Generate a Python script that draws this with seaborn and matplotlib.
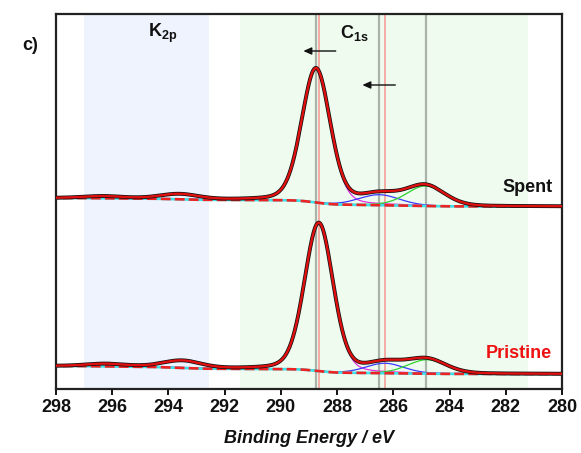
import numpy as np
import pandas as pd
import matplotlib
matplotlib.use("Agg")
import matplotlib.pyplot as plt
import seaborn as sns

# ---------------- data ----------------
samples = ["Spent", "Pristine"]
tick_values = [298, 296, 294, 292, 290, 288, 286, 284, 282, 280]

# C1s components: O-C=O (magenta), C-O (blue), C-C (green)
c1s_colors = ["#e030e0", "#3a3aff", "#30d030"]
spent_c1s_center = [288.75, 286.5, 284.85]
spent_c1s_height = [134, 10.5, 20]
spent_c1s_fwhm = [1.2, 1.7, 1.6]
pristine_c1s_center = [288.65, 286.3, 284.8]
pristine_c1s_height = [148, 10, 14]
pristine_c1s_fwhm = [1.2, 1.6, 1.6]

# K2p components: K2p3/2 (blue), K2p1/2 (green)
k2p_colors = ["#3a3aff", "#30d030"]
spent_k2p_center = [293.6, 296.3]
spent_k2p_height = [5, 2.0]
pristine_k2p_center = [293.5, 296.2]
pristine_k2p_height = [7, 2.5]
k2p_fwhm = [1.6, 1.6]

# background levels: high-BE end, between K and C regions, low-BE end
spent_bg = [191, 189, 182.5]
pristine_bg = [23, 20, 15]

# reference lines (grey = spent, red = pristine)
spent_lines = [288.75, 286.5, 284.85]
pristine_lines = [288.65, 286.3]

# shaded regions
k2p_span = [297.0, 292.55]
c1s_span = [291.45, 281.2]

GL_MIX = 0.2  # Lorentzian fraction of the pseudo-Voigt line shape


def pv(x, c, h, w):
    g = np.exp(-4 * np.log(2) * ((x - c) / w) ** 2)
    l = 1.0 / (1.0 + 4 * ((x - c) / w) ** 2)
    return h * ((1 - GL_MIX) * g + GL_MIX * l)


def cum_from_low(y):
    # array runs high BE -> low BE; Shirley-type cumulative fraction
    c = np.cumsum(y[::-1])[::-1]
    return c / c[0]


be = np.linspace(298, 280, 1801)


def build(cc, ch, cw, kc, kh, bgl):
    c_comps = [pv(be, c, h, w) for c, h, w in zip(cc, ch, cw)]
    k_comps = [pv(be, c, h, w) for c, h, w in zip(kc, kh, k2p_fwhm)]
    fc = cum_from_low(sum(c_comps))
    fk = cum_from_low(sum(k_comps))
    bg = bgl[2] + (bgl[1] - bgl[2]) * fc + (bgl[0] - bgl[1]) * fk
    env = bg + sum(c_comps) + sum(k_comps)
    return bg, c_comps, k_comps, env


sns.set_theme(style="white")
plt.rcParams["font.family"] = ["Liberation Sans", "DejaVu Sans"]
plt.rcParams["text.color"] = "#111111"
plt.rcParams["axes.labelcolor"] = "#111111"
plt.rcParams["xtick.color"] = "#111111"
plt.rcParams["mathtext.fontset"] = "custom"
plt.rcParams["mathtext.rm"] = "Liberation Sans"
plt.rcParams["mathtext.bf"] = "Liberation Sans:bold"

fig = plt.figure(figsize=(5.81, 4.53), dpi=100)
ax = fig.add_axes([56 / 581, 1 - 389 / 453, 506 / 581, 375 / 453])

ax.axvspan(*k2p_span, color="#eef3fd", zorder=0, lw=0)
ax.axvspan(*c1s_span, color="#effbef", zorder=0, lw=0)

for v in spent_lines:
    ax.axvline(v, color="#a9b3a9", lw=1.6, zorder=1)
for v in pristine_lines:
    ax.axvline(v, color="#f4a79f", lw=1.3, zorder=1)

params = {
    "Spent": (spent_c1s_center, spent_c1s_height, spent_c1s_fwhm,
              spent_k2p_center, spent_k2p_height, spent_bg),
    "Pristine": (pristine_c1s_center, pristine_c1s_height, pristine_c1s_fwhm,
                 pristine_k2p_center, pristine_k2p_height, pristine_bg),
}

for s in samples:
    bg, cc, kc, env = build(*params[s])
    df = pd.DataFrame({"be": be, "bg": bg, "env": env})
    for i, comp in enumerate(kc):
        df[f"k{i}"] = bg + comp
        sns.lineplot(data=df, x="be", y=f"k{i}", ax=ax, color=k2p_colors[i],
                     lw=0.9, zorder=3, legend=False)
    for i, comp in enumerate(cc):
        df[f"c{i}"] = bg + comp
        sns.lineplot(data=df, x="be", y=f"c{i}", ax=ax, color=c1s_colors[i],
                     lw=0.9, zorder=3, legend=False)
    sns.lineplot(data=df, x="be", y="bg", ax=ax, color="#40e0e8", lw=1.9,
                 zorder=4, legend=False)
    sns.lineplot(data=df, x="be", y="bg", ax=ax, color="#ee2222", lw=1.9,
                 zorder=5, legend=False, dashes=(3, 2.2), linestyle="--")
    sns.lineplot(data=df, x="be", y="env", ax=ax, color="#111111", lw=2.8,
                 zorder=6, legend=False)
    sns.lineplot(data=df, x="be", y="env", ax=ax, color="#e01010", lw=1.7,
                 zorder=7, legend=False)

ax.set_xlim(298, 280)
ax.set_ylim(0, 375)
ax.set_yticks([])
ax.set_ylabel("")
ax.set_xticks(tick_values)
ax.set_xticks(np.arange(297, 280, 2), minor=True)
ax.set_xticklabels([str(t) for t in tick_values], fontsize=13, fontweight="bold")
ax.tick_params(axis="x", which="major", direction="out", length=4, width=1.4,
               pad=3, bottom=True, colors="#111111")
ax.tick_params(axis="x", which="minor", direction="out", length=2.2, width=1.2,
               bottom=True, colors="#111111")
ax.set_xlabel("Binding Energy / eV", fontsize=13, fontweight="bold",
              fontstyle="italic", labelpad=10, color="#111111")
for sp in ax.spines.values():
    sp.set_linewidth(1.6)
    sp.set_color("#222222")

ax.text(294.2, 356, r"$\mathbf{K_{2p}}$", fontsize=13, ha="center", va="center",
        color="#111111")
ax.text(287.4, 356, r"$\mathbf{C_{1s}}$", fontsize=13, ha="center", va="center",
        color="#111111")
ax.text(280.35, 201, "Spent", fontsize=13, fontweight="bold", ha="right",
        va="center", color="#111111")
ax.text(280.35, 35, "Pristine", fontsize=13, fontweight="bold", ha="right",
        va="center", color="#ee1111")

arrow = dict(arrowstyle="-|>,head_length=0.4,head_width=0.18", color="#111111",
             lw=1.0, shrinkA=0, shrinkB=0)
ax.annotate("", xy=(289.2, 338), xytext=(288.05, 338), arrowprops=arrow)
ax.annotate("", xy=(287.1, 304), xytext=(285.93, 304), arrowprops=arrow)

fig.text(22 / 581, 1 - 45 / 453, "c)", fontsize=13, fontweight="bold",
         ha="left", va="center", color="#111111")

fig.savefig("out.png", dpi=100)
